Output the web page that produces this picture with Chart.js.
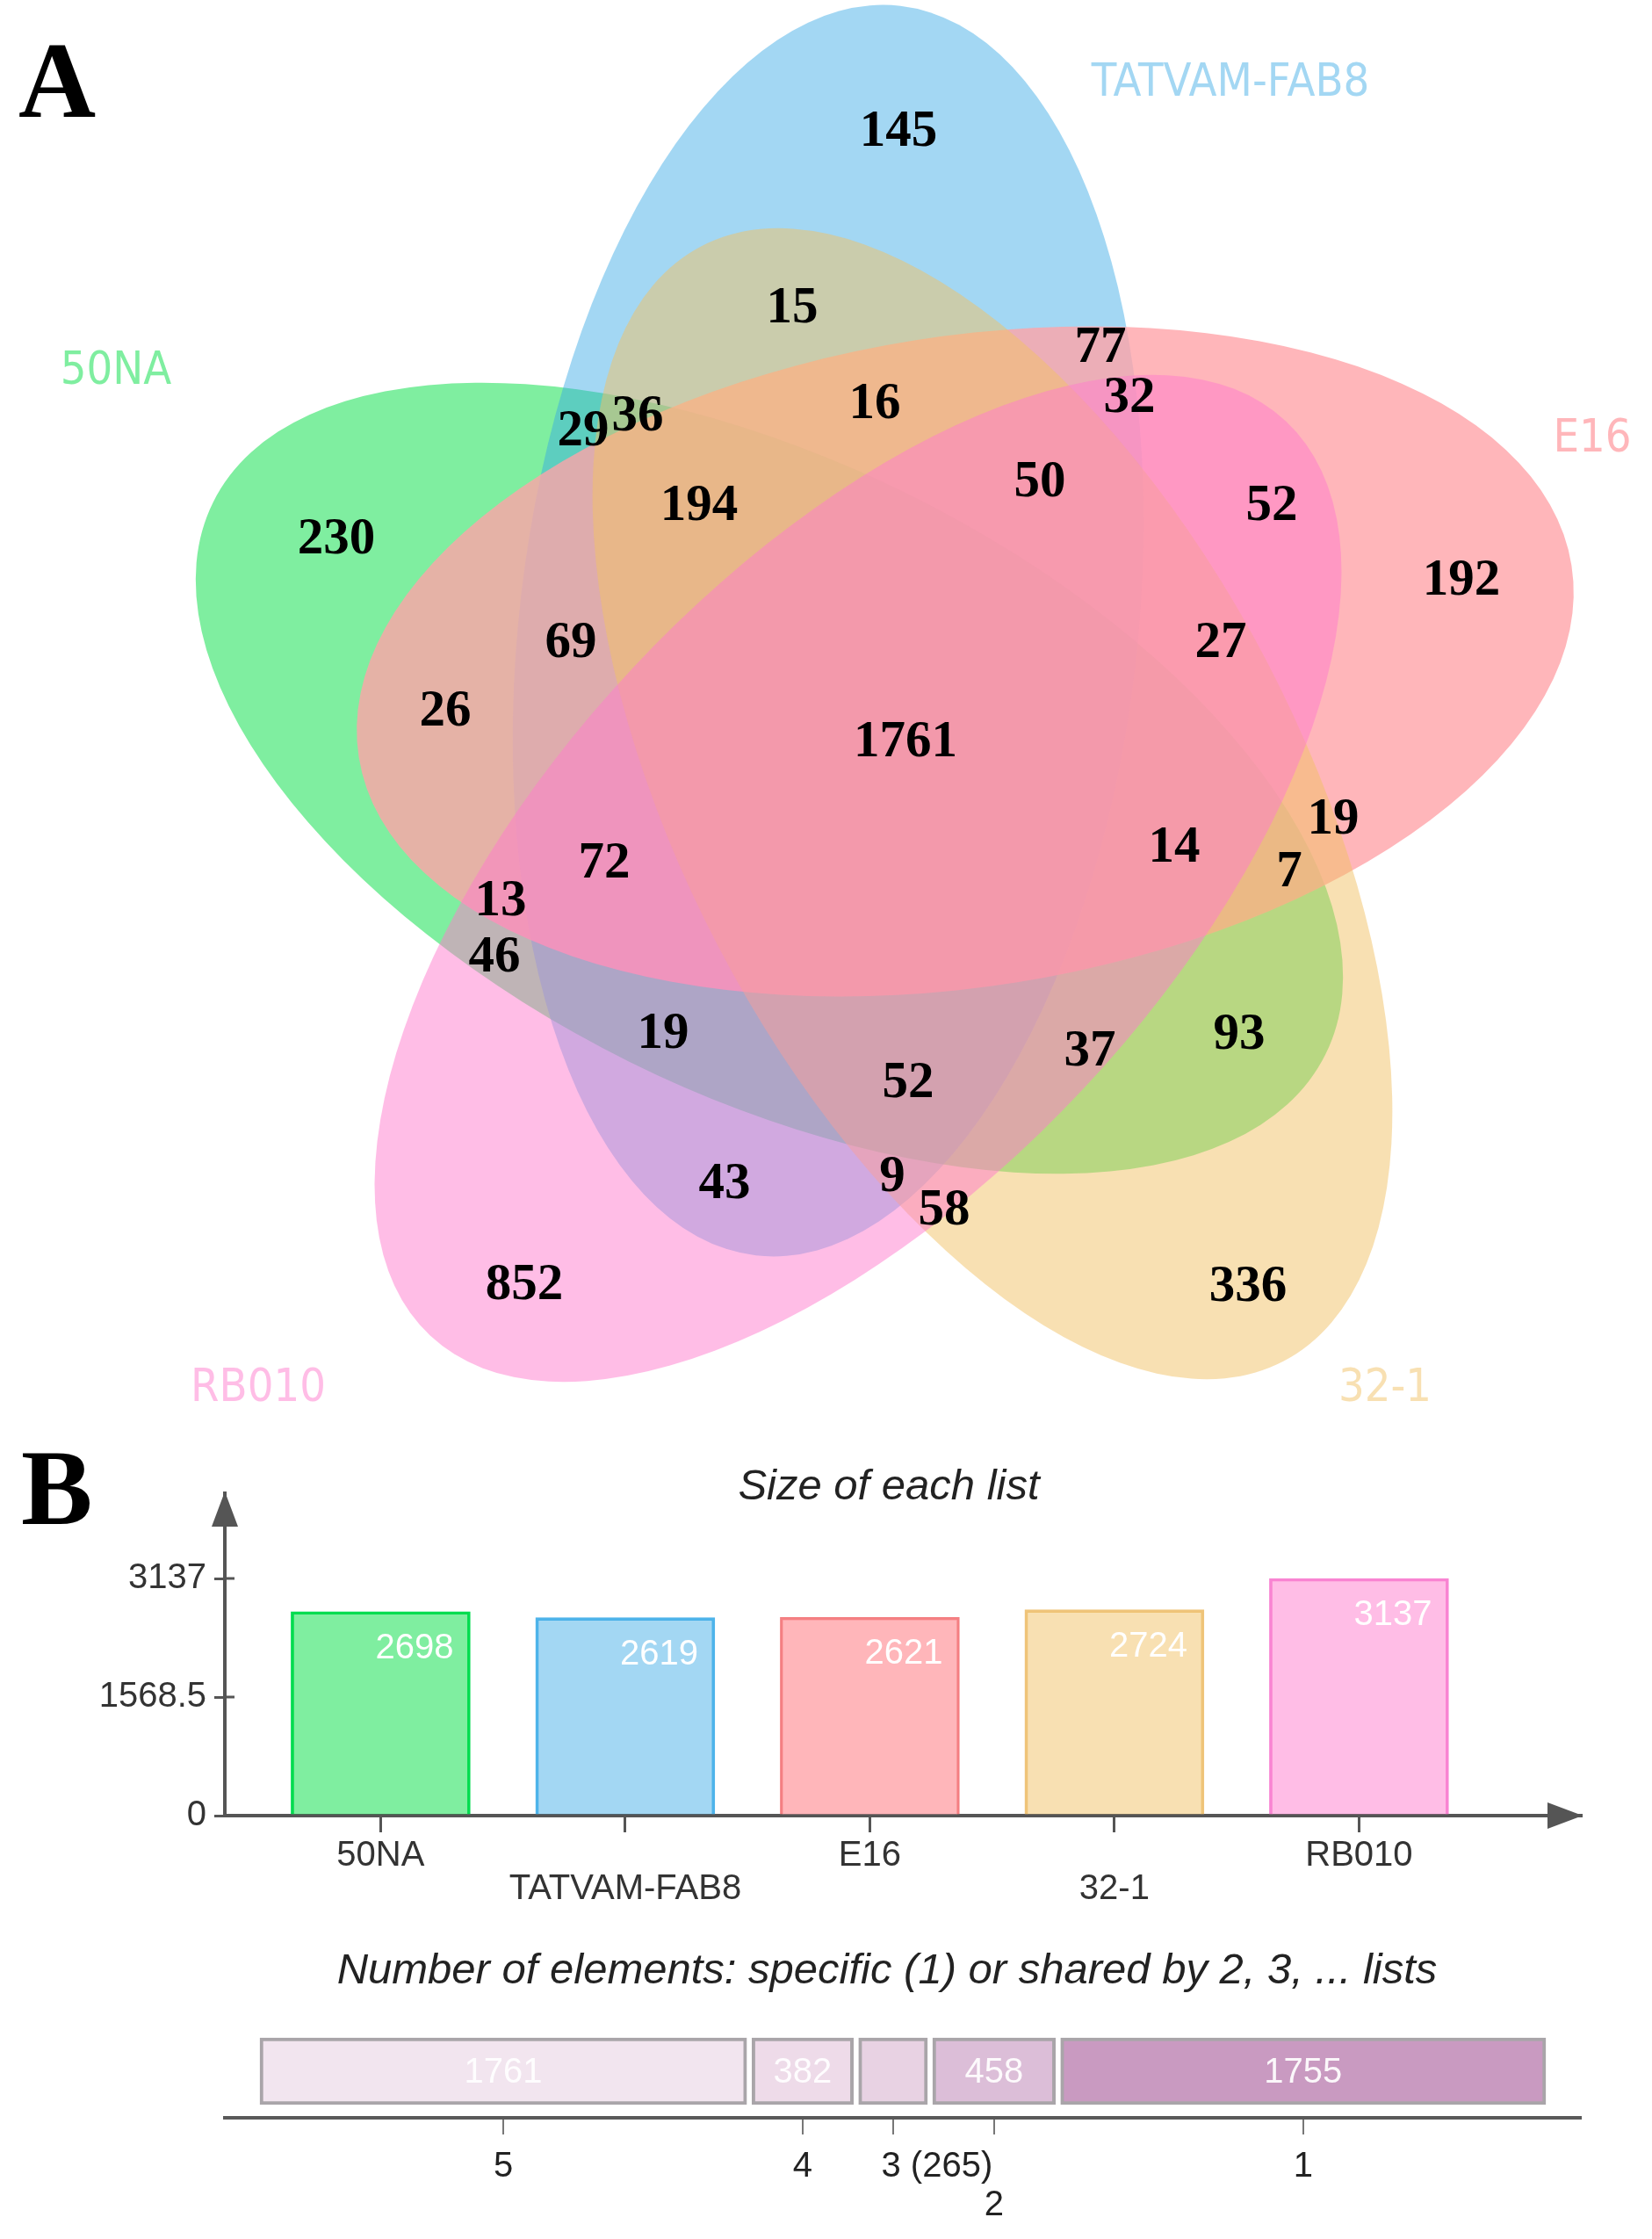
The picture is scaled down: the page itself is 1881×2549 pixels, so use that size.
<!DOCTYPE html>
<html>
<head>
<meta charset="utf-8">
<script src="https://cdn.jsdelivr.net/npm/chart.js@4.4.1/dist/chart.umd.min.js"></script>
<style>
  html, body { margin: 0; padding: 0; background: #fff; }
  #page { position: relative; width: 1881px; height: 2549px; overflow: hidden; background: #fff; }
  canvas { position: absolute; left: 0; }
</style>
</head>
<body>
<div id="page">
  <canvas id="venn" width="1881" height="1640" style="top:0"></canvas>
  <canvas id="sizes" width="1881" height="560" style="top:1640px"></canvas>
  <canvas id="shared" width="1881" height="349" style="top:2200px"></canvas>
</div>
<script>
// ---- data ----
const setNames = ['50NA', 'TATVAM-FAB8', 'E16', '32-1', 'RB010'];
const listSizes = [2698, 2619, 2621, 2724, 3137];
const sizeTicks = [0, 1568.5, 3137];

// counts of the 31 Venn regions (panel A)
const regionCounts = [145, 15, 77, 32, 16, 29, 36, 194, 50, 52, 192, 230, 69, 27, 26,
  1761, 19, 14, 7, 72, 13, 46, 19, 93, 37, 52, 43, 9, 58, 852, 336];

const sharedDegree = [5, 4, 3, 2, 1];
const sharedCounts = [1761, 382, 265, 458, 1755];

// ---- layout / style ----
// where each region count sits (same order as regionCounts)
const regionLabelPos = [[1023, 151], [902, 352], [1253, 397], [1286, 454], [996, 461],
  [664, 492], [726, 475], [796, 577], [1184, 550], [1448, 577], [1664, 662], [383, 615],
  [650, 733], [1390, 733], [507, 811], [1031, 846], [1518, 934], [1337, 966], [1468, 994],
  [688, 984], [570, 1027], [563, 1091], [755, 1178], [1411, 1179], [1241, 1198],
  [1034, 1234], [825, 1349], [1016, 1341], [1075, 1379], [597, 1464], [1421, 1466]];
// one ellipse per set, in setNames order (also the drawing order)
const vennShapes = [
  { cx: 876, cy: 886, a: 707, b: 360, rot: 26.4 },
  { cx: 943, cy: 718, a: 716, b: 352, rot: -83.4 },
  { cx: 1099, cy: 753, a: 699, b: 370, rot: -9 },
  { cx: 1130, cy: 915, a: 716, b: 352, rot: 62.4 },
  { cx: 977, cy: 1000, a: 713, b: 351, rot: -46.9 }
];
const setNamePos = [[132, 423], [1401, 95], [1813, 500], [1577, 1581], [294, 1581]];
const setColors = [[0, 221, 65], [51, 166, 228], [255, 164, 169], [241, 193, 101], [255, 123, 205]];
const setAlpha = [0.5, 0.45, 0.8, 0.5, 0.5];
const barBorders = ['#00dc50', '#4fb4ea', '#f47f82', '#efc47a', '#f884d2'];
const sharedColors = ['#f2e5ef', '#eedbe9', '#e8d2e3', '#dcbed8', '#c99ac1'];

const SANS = '"Liberation Sans", Arial, sans-serif';
const SERIF = '"Liberation Serif", "Times New Roman", serif';
Chart.defaults.font.family = SANS;

const rgba = (c, a) => `rgba(${c[0]},${c[1]},${c[2]},${a})`;
const common = {
  responsive: false, animation: false, devicePixelRatio: 1, events: [],
  plugins: { legend: { display: false }, tooltip: { enabled: false } }
};

// ---------- panel A ----------
const vennDecor = {
  id: 'vennDecor',
  beforeDatasetsDraw(chart) {
    const { ctx, scales: { x, y } } = chart;
    const k = x.getPixelForValue(1) - x.getPixelForValue(0);
    ctx.save();
    vennShapes.forEach((e, i) => {
      ctx.beginPath();
      ctx.ellipse(x.getPixelForValue(e.cx), y.getPixelForValue(e.cy), e.a * k, e.b * k,
        e.rot * Math.PI / 180, 0, Math.PI * 2);
      ctx.fillStyle = rgba(setColors[i], setAlpha[i]);
      ctx.fill();
    });
    ctx.restore();
  },
  afterDatasetsDraw(chart) {
    const { ctx, scales: { x, y } } = chart;
    const meta = chart.getDatasetMeta(0);
    ctx.save();
    ctx.textAlign = 'center';
    ctx.textBaseline = 'middle';
    ctx.fillStyle = '#000';
    ctx.font = 'bold 59px ' + SERIF;
    meta.data.forEach((pt, i) => ctx.fillText(String(regionCounts[i]), pt.x, pt.y));

    // set names, Tahoma-ish narrow sans
    ctx.font = '52px "DejaVu Sans", sans-serif';
    setNames.forEach((name, i) => {
      ctx.save();
      ctx.translate(x.getPixelForValue(setNamePos[i][0]), y.getPixelForValue(setNamePos[i][1]));
      ctx.scale(0.9, 1);
      ctx.fillStyle = rgba(setColors[i], setAlpha[i]);
      ctx.fillText(name, 0, 0);
      ctx.restore();
    });

    ctx.textAlign = 'left';
    ctx.textBaseline = 'alphabetic';
    ctx.fillStyle = '#000';
    ctx.font = 'bold 122px ' + SERIF;
    ctx.fillText('A', 21, 133);
    ctx.restore();
  }
};

new Chart(document.getElementById('venn'), {
  type: 'scatter',
  data: {
    datasets: [{
      data: regionLabelPos.map(p => ({ x: p[0], y: p[1] })),
      pointRadius: 0, pointHoverRadius: 0
    }]
  },
  options: {
    ...common,
    layout: { padding: 0 },
    scales: {
      x: { type: 'linear', min: 0, max: 1881, display: false },
      y: { type: 'linear', min: 0, max: 1640, reverse: true, display: false }
    }
  },
  plugins: [vennDecor]
});

// ---------- panel B, list sizes ----------
const AXIS = '#555';
const sizeDecor = {
  id: 'sizeDecor',
  afterDatasetsDraw(chart) {
    const { ctx } = chart;
    ctx.save();
    ctx.font = '40px ' + SANS;
    ctx.fillStyle = '#fff';
    ctx.textAlign = 'right';
    ctx.textBaseline = 'middle';
    chart.getDatasetMeta(0).data.forEach((bar, i) => {
      ctx.fillText(String(listSizes[i]), bar.x + bar.width / 2 - 19, bar.y + 42);
    });
    ctx.restore();
  },
  afterDraw(chart) {
    const { ctx, chartArea: ca, scales: { y } } = chart;
    ctx.save();
    // y tick marks cross the axis line
    ctx.strokeStyle = AXIS;
    ctx.lineWidth = 3;
    sizeTicks.slice(1).forEach(v => {
      const py = y.getPixelForValue(v);
      ctx.beginPath();
      ctx.moveTo(ca.left - 1, py);
      ctx.lineTo(ca.left + 11, py);
      ctx.stroke();
    });
    ctx.fillStyle = AXIS;
    ctx.beginPath();
    ctx.moveTo(ca.left, ca.top - 2);
    ctx.lineTo(ca.left - 15, ca.top + 38);
    ctx.lineTo(ca.left + 15, ca.top + 38);
    ctx.closePath();
    ctx.fill();
    ctx.beginPath();
    ctx.moveTo(ca.right + 2, ca.bottom);
    ctx.lineTo(ca.right - 38, ca.bottom - 15);
    ctx.lineTo(ca.right - 38, ca.bottom + 15);
    ctx.closePath();
    ctx.fill();

    ctx.fillStyle = '#222';
    ctx.textAlign = 'center';
    ctx.textBaseline = 'middle';
    ctx.font = 'italic 49px ' + SANS;
    ctx.fillText('Size of each list', 1012, 53);

    ctx.fillStyle = '#000';
    ctx.textAlign = 'left';
    ctx.textBaseline = 'alphabetic';
    ctx.font = 'bold 122px ' + SERIF;
    ctx.fillText('B', 24, 95);
    ctx.restore();
  }
};

new Chart(document.getElementById('sizes'), {
  type: 'bar',
  data: {
    datasets: [{
      data: listSizes.map((v, i) => ({ x: i, y: v })),
      backgroundColor: setColors.map((c, i) => rgba(c, setAlpha[i])),
      borderColor: barBorders,
      borderWidth: 3,
      barThickness: 204
    }]
  },
  options: {
    ...common,
    layout: { padding: { top: 60, right: 81, left: 0, bottom: 0 } },
    scales: {
      x: {
        type: 'linear', min: -0.637, max: 4.907, offset: false,
        afterBuildTicks: s => { s.ticks = setNames.map((_, i) => ({ value: i })); },
        afterFit: s => { s.height = 133; },
        ticks: {
          autoSkip: false, maxRotation: 0, minRotation: 0, padding: 8, color: '#333',
          font: { size: 40, lineHeight: 0.95 },
          callback: (v, i) => (i % 2 ? ['', setNames[i]] : setNames[i])
        },
        grid: { drawOnChartArea: false, offset: false, tickLength: 19, color: AXIS, lineWidth: 3 },
        border: { color: AXIS, width: 4 }
      },
      y: {
        min: 0, max: 4264,
        afterBuildTicks: s => { s.ticks = sizeTicks.map(v => ({ value: v })); },
        afterFit: s => { s.width = 256; },
        ticks: { padding: 9, color: '#333', font: { size: 40 }, callback: v => String(v) },
        grid: { drawOnChartArea: false, tickLength: 12, color: AXIS, lineWidth: 3 },
        border: { color: AXIS, width: 4 }
      }
    }
  },
  plugins: [sizeDecor]
});

// ---------- panel B, shared-by-n bar ----------
const spans = [];
let run = 0;
sharedCounts.forEach(v => { spans.push([run, run + v]); run += v; });
const total = run;
const BAR_PX = 1470;             // drawn length of the full bar
const AXIS_PX = 1544;            // drawn length of the axis under it
const margin = total * (AXIS_PX - BAR_PX) / 2 / BAR_PX;
const xMin = -margin, xMax = total + margin;
const gapU = 3 * (xMax - xMin) / AXIS_PX;
const narrow = i => sharedCounts[i] / total * BAR_PX < 100;

const measureCtx = document.createElement('canvas').getContext('2d');
measureCtx.font = '40px ' + SANS;
const sharedLabel = i => {
  const d = String(sharedDegree[i]);
  if (!narrow(i)) return d;
  const tail = ' (' + sharedCounts[i] + ')';
  const n = Math.round(measureCtx.measureText(tail).width / measureCtx.measureText(' ').width);
  return ' '.repeat(n) + d + tail;
};

const sharedDecor = {
  id: 'sharedDecor',
  afterDatasetsDraw(chart) {
    const { ctx } = chart;
    ctx.save();
    ctx.font = '40px ' + SANS;
    ctx.fillStyle = 'rgba(255,255,255,0.92)';
    ctx.textAlign = 'center';
    ctx.textBaseline = 'middle';
    sharedCounts.forEach((v, i) => {
      if (narrow(i)) return;
      const el = chart.getDatasetMeta(i).data[0];
      ctx.fillText(String(v), (el.x + el.base) / 2, el.y + 2);
    });
    ctx.fillStyle = '#222';
    ctx.font = 'italic 49px ' + SANS;
    ctx.fillText('Number of elements: specific (1) or shared by 2, 3, ... lists', 1010, 44);
    ctx.restore();
  }
};

new Chart(document.getElementById('shared'), {
  type: 'bar',
  data: {
    labels: [''],
    datasets: sharedCounts.map((v, i) => ({
      data: [[spans[i][0] + gapU, spans[i][1] - gapU]],
      backgroundColor: sharedColors[i],
      borderColor: 'rgba(160,155,160,0.9)',
      borderWidth: 4,
      borderSkipped: false,
      grouped: false,
      barThickness: 76
    }))
  },
  options: {
    ...common,
    indexAxis: 'y',
    layout: { padding: { top: 105, right: 81, left: 256, bottom: 0 } },
    scales: {
      x: {
        type: 'linear', min: xMin, max: xMax, offset: false,
        afterBuildTicks: s => { s.ticks = spans.map(p => ({ value: (p[0] + p[1]) / 2 })); },
        afterFit: s => { s.height = 138; },
        ticks: {
          autoSkip: false, maxRotation: 0, minRotation: 0, padding: 15, color: '#222',
          font: { size: 40, lineHeight: 1.1 },
          callback: (v, i) => (i > 0 && narrow(i - 1) ? ['', sharedLabel(i)] : sharedLabel(i))
        },
        grid: { drawOnChartArea: false, offset: false, tickLength: 19, color: '#777', lineWidth: 2 },
        border: { color: '#5a5a5a', width: 4 }
      },
      y: { type: 'category', display: false }
    }
  },
  plugins: [sharedDecor]
});
</script>
</body>
</html>
